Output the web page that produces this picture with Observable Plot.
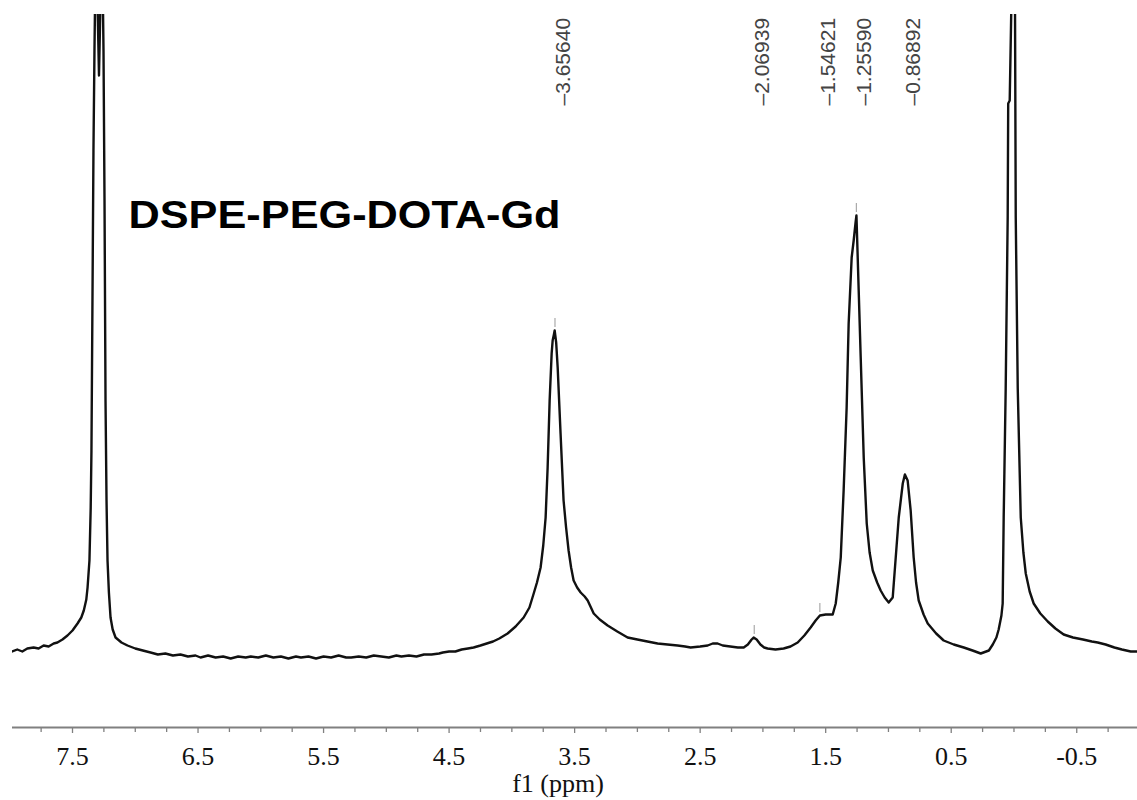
<!DOCTYPE html>
<html>
<head>
<meta charset="utf-8">
<script src="https://cdn.jsdelivr.net/npm/d3@7"></script>
<script src="https://cdn.jsdelivr.net/npm/@observablehq/plot@0.6"></script>
<style>
  html, body { margin: 0; padding: 0; background: #fff; }
  svg { display: block; }
</style>
</head>
<body>
<div id="chart"></div>
<script>
// Chemical shift (ppm) and signal intensity (arbitrary units)
const ppm = [
  7.98, 7.94, 7.90, 7.86, 7.81, 7.77, 7.73, 7.69, 7.65, 7.62, 7.58, 7.54, 7.50, 7.46, 7.43, 7.41, 7.39, 7.38,
  7.365, 7.355, 7.349, 7.341, 7.333, 7.325, 7.313, 7.289, 7.265, 7.253, 7.245, 7.237, 7.229, 7.221, 7.21, 7.197,
  7.18, 7.157, 7.11, 7.062, 7.00, 6.94, 6.878, 6.82, 6.76, 6.70, 6.64, 6.58, 6.52, 6.48, 6.42, 6.36, 6.30, 6.24,
  6.18, 6.12, 6.08, 6.02, 5.96, 5.90, 5.84, 5.78, 5.72, 5.68, 5.62, 5.56, 5.50, 5.44, 5.38, 5.32, 5.28, 5.22,
  5.16, 5.10, 5.04, 4.98, 4.92, 4.88, 4.82, 4.76, 4.70, 4.64, 4.58, 4.55, 4.50, 4.45, 4.40, 4.35, 4.305, 4.25,
  4.20, 4.15, 4.10, 4.034, 3.97, 3.906, 3.86, 3.826, 3.80, 3.771, 3.75, 3.731, 3.715, 3.699, 3.683, 3.675, 3.665,
  3.659, 3.647, 3.635, 3.612, 3.588, 3.568, 3.548, 3.528, 3.508, 3.48, 3.452, 3.42, 3.396, 3.37, 3.348, 3.30,
  3.237, 3.16, 3.078, 3.00, 2.92, 2.839, 2.76, 2.68, 2.62, 2.576, 2.50, 2.44, 2.40, 2.361, 2.32, 2.26, 2.20,
  2.153, 2.12, 2.09, 2.074, 2.05, 2.02, 1.99, 1.963, 1.90, 1.835, 1.78, 1.723, 1.67, 1.620, 1.58, 1.546, 1.50,
  1.444, 1.42, 1.40, 1.380, 1.357, 1.333, 1.317, 1.293, 1.277, 1.262, 1.255, 1.237, 1.221, 1.197, 1.173, 1.15,
  1.125, 1.09, 1.062, 1.03, 0.998, 0.966, 0.942, 0.918, 0.886, 0.869, 0.847, 0.823, 0.799, 0.78, 0.759, 0.72,
  0.687, 0.62, 0.560, 0.48, 0.400, 0.33, 0.265, 0.20, 0.169, 0.14, 0.122, 0.100, 0.090, 0.082, 0.066, 0.050,
  0.046, 0.034, 0.010, -0.006, -0.014, -0.030, -0.054, -0.075, -0.094, -0.125, -0.157, -0.21, -0.269, -0.33,
  -0.396, -0.47, -0.55, -0.62, -0.667, -0.73, -0.80, -0.86, -0.93, -0.984
];
const intensity = [
  76, 78, 76, 79, 80, 79, 82, 81, 84, 85, 88, 92, 97, 104, 110, 117, 128, 140,
  167, 220, 277, 427, 577, 677, 800, 652, 800, 677, 527, 327, 227, 167, 135, 110,
  98, 90, 85, 82, 79, 77, 75, 73, 74, 72, 73, 71, 72, 70, 72, 70, 71, 69,
  71, 70, 71, 70, 72, 70, 71, 69, 71, 70, 71, 69, 71, 70, 72, 70, 70, 71,
  70, 72, 71, 70, 72, 71, 72, 71, 73, 73, 74, 75, 76, 76, 78, 79, 80, 82,
  84, 86, 89, 94, 101, 110, 120, 134, 145, 160, 182, 210, 260, 327, 374, 387, 393,
  397, 385, 360, 294, 227, 200, 177, 160, 147, 140, 135, 131, 127, 120, 114, 108,
  102, 96, 90, 88, 86, 84, 83, 82, 81, 80, 81, 82, 84, 84, 82, 81, 80,
  80, 83, 88, 90, 88, 83, 80, 79, 78, 79, 81, 85, 92, 100, 107, 112, 113,
  113, 124, 145, 170, 237, 320, 404, 470, 487, 505, 512, 437, 370, 270, 204, 175,
  157, 145, 137, 130, 125, 130, 170, 210, 244, 253, 247, 217, 170, 145, 127, 113,
  104, 94, 87, 83, 80, 77, 74, 77, 83, 90, 98, 112, 124, 210, 339, 511,
  624, 627, 800, 800, 511, 339, 210, 175, 154, 136, 124, 114, 106, 99,
  93, 90, 88, 86, 85, 83, 80, 78, 76, 76
];

// Peak picking labels
const peakPpm = [3.65640, 2.06939, 1.54621, 1.25590, 0.86892];
const peakLabels = ["\u20133.65640", "\u20132.06939", "\u20131.54621", "\u20131.25590", "\u20130.86892"];

// Peak markers (small ticks above picked peaks)
const markerPpm = [3.65640, 2.06939, 1.54621, 1.25590];
const markerHeight = [397, 90, 112, 512];

// Axis ticks
const majorTicks = [7.5, 6.5, 5.5, 4.5, 3.5, 2.5, 1.5, 0.5, -0.5];
const tickLabels = ["7.5", "6.5", "5.5", "4.5", "3.5", "2.5", "1.5", "0.5", "-0.5"];
const minorTicks = [7.75, 7.25, 7.0, 6.75, 6.25, 6.0, 5.75, 5.25, 5.0, 4.75, 4.25, 4.0, 3.75, 3.25, 3.0, 2.75,
  2.25, 2.0, 1.75, 1.25, 1.0, 0.75, 0.25, 0.0, -0.25, -0.75];

const titleText = ["DSPE-PEG-DOTA-Gd"];
const axisTitle = ["f1 (ppm)"];

const data = ppm.map((p, i) => ({ppm: p, I: intensity[i]}));

const plot = Plot.plot({
  width: 1137,
  height: 800,
  marginLeft: 12,
  marginRight: 0,
  marginTop: 14,
  marginBottom: 73,
  style: {background: "#fff", color: "#111"},
  x: {domain: [7.978, -0.984], label: null},
  y: {domain: [0, 713], axis: null},
  marks: [
    Plot.ruleY([0], {stroke: "#808080", strokeWidth: 2}),
    Plot.axisX(minorTicks, {tickSize: 5, stroke: "#808080", strokeWidth: 1.3, tickFormat: () => "", label: null}),
    Plot.axisX(majorTicks, {
      tickSize: 6, tickPadding: 13, stroke: "#808080", strokeWidth: 1.3,
      tickFormat: (d, i) => tickLabels[i], label: null,
      fontSize: 26, fontFamily: "Liberation Serif", fill: "#111"
    }),
    Plot.line(data, {x: "ppm", y: "I", stroke: "#111", strokeWidth: 2.4, clip: true}),
    Plot.ruleX(markerPpm, {
      x: d => d, y1: (d, i) => markerHeight[i] + 3, y2: (d, i) => markerHeight[i] + 12,
      stroke: "#999", strokeWidth: 1
    }),
    Plot.text(peakPpm, {
      x: d => d, text: (d, i) => peakLabels[i], frameAnchor: "top", dy: 91,
      rotate: -90, textAnchor: "start", fontSize: 21, fontFamily: "Liberation Sans", fill: "#444"
    }),
    Plot.text(titleText, {
      text: d => d, frameAnchor: "top-left", dx: 116, dy: 201, textAnchor: "start", lineAnchor: "middle",
      fontSize: 38, fontWeight: "bold", fontFamily: "Liberation Sans", fill: "#000"
    }),
    Plot.text(axisTitle, {
      text: d => d, frameAnchor: "bottom", dx: -17, dy: 56, lineAnchor: "middle",
      fontSize: 26, fontFamily: "Liberation Serif", fill: "#111"
    })
  ]
});

d3.select(plot).selectAll("text")
  .filter(function() { return this.textContent === titleText[0]; })
  .attr("textLength", 432)
  .attr("lengthAdjust", "spacingAndGlyphs");

document.getElementById("chart").appendChild(plot);
</script>
</body>
</html>
